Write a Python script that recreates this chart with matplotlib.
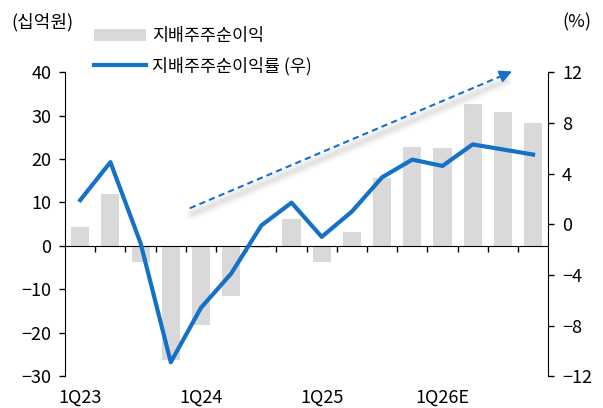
import matplotlib
matplotlib.use("Agg")
import matplotlib.pyplot as plt
import matplotlib.patheffects as pe
import numpy as np

plt.rcParams['font.family'] = ['Noto Sans CJK KR', 'DejaVu Sans']

# 데이터
quarters = ['1Q23', '2Q23', '3Q23', '4Q23', '1Q24', '2Q24', '3Q24', '4Q24',
            '1Q25', '2Q25', '3Q25', '4Q25', '1Q26E', '2Q26E', '3Q26E', '4Q26E']
net_income = [4.4, 12.0, -3.8, -26.2, -18.2, -11.5, -0.4, 6.2,
              -3.6, 3.2, 15.7, 22.8, 22.6, 32.6, 30.8, 28.4]
net_margin = [1.9, 4.9, -1.5, -10.9, -6.6, -3.9, -0.1, 1.7,
              -1.0, 1.0, 3.7, 5.1, 4.6, 6.3, 5.9, 5.5]
shown_labels = ['1Q23', '1Q24', '1Q25', '1Q26E']

bar_color = '#D9D9D9'
line_color = '#1570C8'

x = np.arange(len(quarters))

fig = plt.figure(figsize=(6.03, 4.08), dpi=100)
ax = fig.add_axes([0.108, 0.078, 0.801, 0.745])
ax2 = ax.twinx()

bars = ax.bar(x, net_income, width=0.6, color=bar_color, zorder=1, label='지배주주순이익')
line, = ax2.plot(x, net_margin, color=line_color, lw=3, zorder=3, label='지배주주순이익률 (우)')

ax.set_xlim(-0.5, len(quarters) - 0.5)
ax.set_ylim(-30, 40)
ax.set_yticks(range(-30, 41, 10))
ax2.set_ylim(-12, 12)
ax2.set_yticks(range(-12, 13, 4))

# x축은 0에 위치
ax.spines['bottom'].set_position(('data', 0))
ax.spines['top'].set_visible(False)
ax.spines['right'].set_visible(False)
for s in ['top', 'bottom', 'left']:
    ax2.spines[s].set_visible(False)

ax.set_xticks(x[:-1] + 0.5)
ax.set_xticklabels([])
ax.tick_params(axis='x', direction='out', length=4, width=1)
ax.tick_params(axis='y', direction='out', length=4, width=1, labelsize=13, pad=6)
ax2.tick_params(axis='y', direction='out', length=4, width=1, labelsize=13, pad=6)

for lab in shown_labels:
    i = quarters.index(lab)
    ax.text(i, -0.07, lab, transform=ax.get_xaxis_transform(),
            ha='center', va='center', fontsize=13)

# 추세 화살표 (그림자 포함)
arrow_x = [3.63, 14.0]
arrow_y = [1.26, 11.75]
for w, a in [(9, 0.05), (6, 0.07), (3, 0.09)]:
    ax2.plot(arrow_x, arrow_y, color='none', lw=w, solid_capstyle='round', zorder=2,
             path_effects=[pe.SimpleLineShadow(offset=(2, -4), shadow_color='#808080',
                                               alpha=a, linewidth=w)])
ax2.plot(arrow_x, arrow_y, color=line_color, lw=1.5, ls=(0, (3, 2)), zorder=4, clip_on=False)
ax2.annotate('', xy=(14.39, 12.15), xytext=(13.9, 11.65),
             arrowprops=dict(arrowstyle='-|>', color=line_color, lw=1.5, mutation_scale=18),
             annotation_clip=False, zorder=4)

fig.text(0.07, 0.945, '(십억원)', ha='center', va='center', fontsize=13)
fig.text(0.956, 0.945, '(%)', ha='center', va='center', fontsize=13)

fig.legend(handles=[bars, line], loc='upper left', bbox_to_anchor=(0.145, 0.95),
           frameon=False, fontsize=12.5, handlelength=3.0, handletextpad=0.3,
           labelspacing=0.65, borderaxespad=0)

fig.savefig('out.png', dpi=100)
